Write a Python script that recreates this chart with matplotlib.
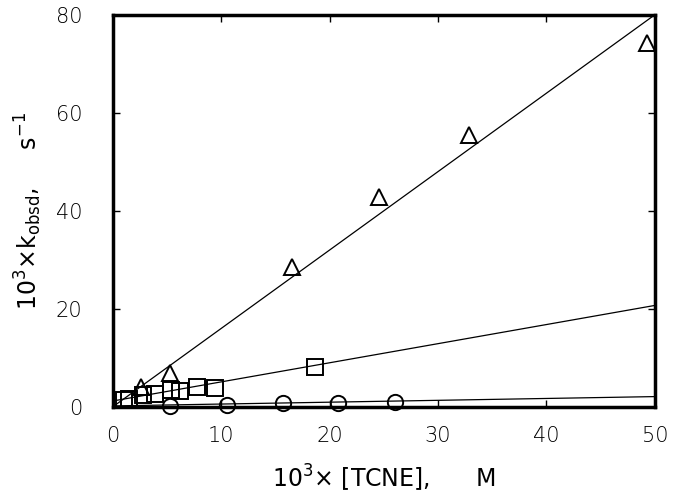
import numpy as np
import matplotlib
matplotlib.use("Agg")
import matplotlib.pyplot as plt

# data, x = 10^3 [TCNE] (M), y = 10^3 k_obsd (s^-1)
tri_x = [2.6, 5.3, 16.5, 24.6, 32.9, 49.3]
tri_y = [4.1, 6.9, 28.6, 42.9, 55.5, 74.3]

sq_x = [1.0, 1.5, 2.8, 3.9, 5.4, 6.2, 7.8, 9.4, 18.7]
sq_y = [1.5, 1.6, 2.4, 2.7, 3.5, 3.3, 4.0, 3.9, 8.2]

circ_x = [5.3, 10.5, 15.7, 20.8, 26.0]
circ_y = [0.2, 0.4, 0.7, 0.8, 1.0]

# fitted lines: (slope, intercept)
fit_lines = [(1.6, 0.0), (0.39, 1.2), (0.038, 0.2)]

x_ticks = [0, 10, 20, 30, 40, 50]
y_ticks = [0, 20, 40, 60, 80]

plt.rcParams['font.family'] = ['DejaVu Sans']
plt.rcParams['font.weight'] = 'light'
plt.rcParams['mathtext.default'] = 'regular'

fig = plt.figure(figsize=(6.75, 4.95), dpi=100)
ax = fig.add_axes([0.167, 0.178, 0.803, 0.792])

xx = np.array([0, 50])
for slope, icpt in fit_lines:
    ax.plot(xx, slope * xx + icpt, color='black', lw=0.9, zorder=2)

mk = dict(linestyle='none', markerfacecolor='none', markeredgecolor='black',
          markeredgewidth=1.4, markersize=11, zorder=3, clip_on=False)
ax.plot(tri_x, tri_y, marker='^', **mk)
ax.plot(sq_x, sq_y, marker='s', **mk)
ax.plot(circ_x, circ_y, marker='o', **mk)

ax.set_xlim(0, 50)
ax.set_ylim(0, 80)
ax.set_xticks(x_ticks)
ax.set_yticks(y_ticks)
ax.tick_params(axis='x', pad=14)
ax.tick_params(axis='y', pad=22)
ax.tick_params(direction='in', length=5, width=1, top=True, right=True,
               labelsize=15)
for sp in ax.spines.values():
    sp.set_linewidth(2.5)

ax.set_xlabel(r"10$^3$× [TCNE],      M", fontsize=17, labelpad=12)
ax.set_ylabel(r"10$^3$×k$_{obsd}$,     s$^{-1}$", fontsize=17, labelpad=8)

fig.savefig("out.png", dpi=100)
